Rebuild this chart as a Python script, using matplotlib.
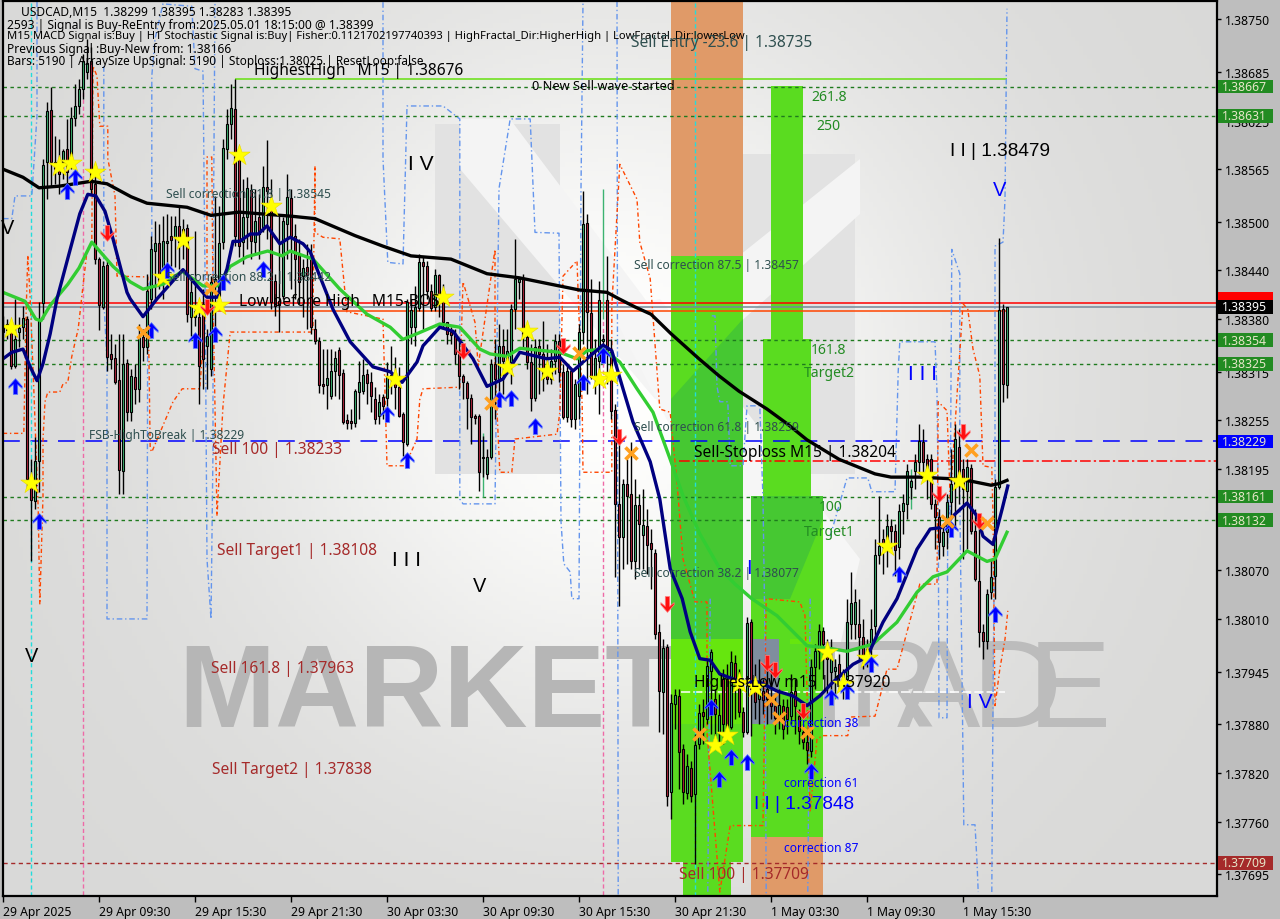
import numpy as np
import matplotlib
matplotlib.use('Agg')
import matplotlib.pyplot as plt
from matplotlib.patches import Rectangle, Polygon
from matplotlib.path import Path
from matplotlib.transforms import blended_transform_factory

plt.rcParams['font.family'] = ['Noto Sans', 'DejaVu Sans']

# prices are stored as points above 1.30000
opens = [8364,8367,8364,8322,8364,8370,8380,8185,8156,8205,
8400,8574,8638,8574,8575,8574,8590,8578,8628,8643,
8664,8685,8698,8547,8454,8395,8447,8337,8332,8305,
8193,8326,8265,8309,8294,8358,8346,8405,8464,8474,
8426,8474,8483,8481,8495,8483,8492,8383,8383,8383,
8399,8347,8318,8423,8408,8475,8590,8621,8639,8581,
8475,8506,8539,8475,8506,8494,8543,8522,8427,8402,
8408,8497,8529,8483,8459,8433,8444,8454,8368,8353,
8300,8299,8285,8316,8342,8313,8255,8254,8252,8290,
8291,8312,8302,8281,8260,8284,8283,8306,8309,8296,
8263,8226,8370,8370,8394,8450,8445,8415,8395,8434,
8411,8376,8364,8362,8337,8310,8301,8283,8260,8260,
8209,8189,8210,8325,8306,8347,8326,8327,8392,8426,
8430,8358,8327,8283,8347,8337,8311,8306,8328,8353,
8315,8259,8316,8257,8285,8364,8499,8388,8309,8328,
8353,8404,8339,8268,8152,8111,8176,8164,8082,8151,
8114,8125,8104,8091,7994,7920,7975,7796,7905,7915,
7850,7795,7826,7794,7856,7895,7887,7946,7911,7870,
7936,7936,7877,7956,7936,7895,7870,8006,7926,7911,
7921,7924,7911,7902,7889,7902,7901,7890,7921,7890,
7870,7858,7847,7951,7970,7995,7975,7945,7946,7954,
7942,7936,8004,8004,8004,7988,7973,7977,8001,8089,
8109,8099,8125,8119,8099,8143,8152,8173,8193,8204,
8228,8207,8207,8152,8136,8100,8117,8154,8177,8222,
8195,8168,8196,8119,8057,7994,7983,8043,8063,8173,
8392,8299]
highs = [8384,8380,8373,8405,8383,8396,8384,8207,8234,8401,
8578,8648,8666,8606,8602,8590,8627,8642,8670,8676,
8707,8726,8716,8571,8457,8452,8452,8362,8349,8362,
8362,8331,8318,8325,8374,8368,8436,8483,8501,8497,
8507,8510,8507,8507,8518,8504,8497,8432,8489,8399,
8417,8368,8433,8532,8520,8602,8639,8670,8676,8590,
8553,8555,8547,8541,8534,8569,8601,8553,8436,8507,
8506,8559,8541,8497,8479,8454,8473,8473,8380,8358,
8343,8343,8343,8341,8346,8318,8263,8269,8294,8328,
8331,8318,8315,8296,8288,8288,8327,8347,8333,8321,
8265,8405,8405,8421,8460,8457,8452,8423,8442,8436,
8423,8376,8370,8368,8355,8312,8304,8288,8263,8263,
8236,8220,8331,8355,8374,8368,8368,8399,8479,8432,
8436,8368,8349,8355,8355,8378,8349,8343,8362,8362,
8325,8325,8318,8306,8374,8538,8510,8430,8355,8427,
8362,8458,8355,8275,8232,8183,8207,8228,8183,8164,
8170,8146,8121,8096,8004,7985,7979,7917,7924,7924,
7856,7843,7835,7868,7905,7911,7961,7973,7924,7917,
7948,7954,7970,7965,7948,7901,8012,8010,7954,7960,
7936,7954,7948,7917,7924,7911,7911,7942,7936,7899,
7880,7868,7961,7979,8004,8000,7985,7985,7961,7967,
7948,8035,8068,8047,8035,8010,7985,8022,8109,8162,
8121,8139,8133,8127,8152,8164,8201,8183,8213,8251,
8244,8213,8213,8158,8146,8127,8164,8220,8251,8244,
8207,8207,8201,8146,8133,8004,8047,8084,8183,8480,
8399,8395]
lows = [8353,8355,8318,8320,8346,8355,8170,8081,8146,8167,
8380,8528,8544,8547,8534,8553,8541,8565,8618,8633,
8652,8676,8534,8448,8367,8392,8316,8318,8300,8164,
8164,8254,8254,8275,8278,8328,8337,8392,8405,8417,
8405,8448,8446,8444,8442,8454,8376,8359,8371,8275,
8294,8294,8310,8355,8392,8466,8578,8602,8470,8457,
8448,8466,8454,8460,8454,8487,8479,8392,8384,8364,
8405,8454,8417,8405,8399,8383,8368,8362,8349,8289,
8287,8269,8281,8285,8281,8251,8244,8244,8247,8257,
8287,8275,8265,8251,8251,8257,8272,8287,8269,8259,
8211,8223,8349,8347,8390,8368,8405,8390,8390,8383,
8368,8349,8349,8325,8294,8281,8244,8226,8251,8168,
8185,8183,8207,8257,8287,8287,8312,8300,8368,8405,
8343,8318,8267,8279,8287,8291,8300,8300,8312,8302,
8257,8253,8247,8244,8257,8349,8287,8306,8287,8263,
8331,8300,8257,8062,8026,8072,8078,8072,8059,8072,
8072,8065,8047,7985,7870,7868,7779,7763,7874,7800,
7782,7788,7784,7708,7850,7856,7880,7868,7856,7856,
7856,7874,7874,7887,7889,7864,7868,7866,7887,7880,
7893,7880,7887,7868,7874,7862,7868,7880,7868,7856,
7850,7831,7840,7924,7948,7936,7917,7921,7917,7924,
7911,7924,7985,7985,7961,7948,7951,7961,7985,8078,
8065,8074,8096,8063,8084,8115,8133,8158,8170,8189,
8183,8158,8146,8096,8084,8088,8096,8133,8121,8152,
8084,8096,8115,8057,7975,7961,7973,8035,8035,8170,
8278,8283]
closes = [8371,8374,8322,8355,8369,8381,8183,8157,8205,8380,
8570,8637,8574,8565,8559,8587,8562,8628,8643,8664,
8698,8696,8541,8454,8397,8446,8333,8331,8302,8194,
8325,8265,8310,8294,8358,8346,8415,8466,8474,8427,
8476,8476,8478,8495,8475,8491,8386,8413,8390,8322,
8331,8359,8426,8430,8474,8591,8621,8640,8483,8470,
8506,8542,8476,8501,8485,8543,8538,8401,8396,8397,
8501,8531,8483,8454,8426,8443,8434,8370,8353,8299,
8297,8307,8316,8332,8311,8253,8252,8252,8291,8302,
8311,8301,8285,8257,8278,8273,8309,8311,8296,8260,
8228,8401,8391,8395,8450,8445,8415,8394,8434,8411,
8376,8362,8360,8337,8310,8302,8283,8259,8258,8191,
8210,8210,8325,8306,8347,8328,8341,8392,8430,8430,
8358,8327,8283,8345,8337,8307,8306,8328,8353,8315,
8259,8316,8257,8300,8364,8497,8389,8309,8332,8404,
8355,8339,8267,8152,8111,8176,8162,8082,8151,8127,
8126,8101,8096,7991,7921,7974,7792,7906,7916,7846,
7796,7829,7792,7854,7894,7890,7952,7969,7893,7891,
7880,7877,7957,7933,7895,7870,8005,7924,7907,7924,
7910,7911,7902,7888,7904,7874,7887,7920,7903,7872,
7858,7848,7951,7970,7995,7979,7961,7961,7951,7940,
7936,8006,8030,8031,7988,7964,7963,7998,8089,8100,
8099,8125,8119,8095,8143,8153,8193,8180,8204,8230,
8204,8189,8152,8136,8105,8117,8154,8177,8232,8183,
8170,8197,8119,8059,7994,7983,8041,8062,8173,8391,
8300,8395]

black_i = [0,5,9,14,22,26,32,36,46,52,59,72,78,88,95,102,112,121,129,138,144,151,154,158,162,167,174,179,184,191,196,201,209,218,222,229,237,242,247,249,251]
black_p = [8565,8555,8542,8544,8550,8547,8531,8523,8518,8508,8512,8507,8504,8483,8470,8458,8454,8436,8431,8422,8416,8413,8405,8395,8386,8362,8331,8310,8291,8269,8251,8231,8207,8189,8185,8185,8183,8180,8175,8177,8181]

navy_i = [0,2.2,5,6.8,8.5,10,11.8,13.5,16.8,19.2,21.2,23.2,25.5,27.5,31,31.8,35,38.5,45,48.5,51,53.5,56,57.5,59.2,61.8,63.8,66,69.2,71.8,75,76.8,79.2,82.5,86.8,92.5,96.8,99.8,103.5,105,109.2,112.5,117.5,121,125,129.2,136,139.2,142.5,145,150,152.2,155,157.5,161.8,164.2,166.8,169.8,171.8,174.2,176.8,179.2,184.2,189.2,193.5,197.5,201,204.2,207.5,212.5,216,220,223.5,228.5,231.8,235,237.5,241,243.5,245,247.5,249.8,251.2]
navy_p = [8331,8339,8343,8321,8304,8325,8362,8405,8466,8510,8534,8532,8513,8479,8413,8405,8383,8405,8441,8421,8407,8407,8442,8476,8476,8485,8485,8495,8473,8481,8473,8463,8433,8392,8352,8321,8315,8302,8327,8347,8370,8365,8331,8297,8306,8339,8331,8333,8316,8327,8348,8341,8294,8253,8204,8158,8072,8035,7994,7961,7959,7942,7933,7932,7921,7915,7903,7915,7932,7954,7963,8006,8035,8096,8121,8123,8137,8153,8137,8112,8102,8146,8174]

green_i = [0,5.5,8.2,9.5,11.8,16.2,19,22.2,27.5,31.8,35,40,44.8,50,53.5,56.8,61,66.2,69.8,71.8,77.5,84.2,91,96.8,100,103.5,109.2,114.2,119.2,121.8,126,129.2,139.2,143.5,146,150,154.2,158.5,162.5,166.8,170,174.2,179.2,183,187.2,193.5,201,207.5,211,217.5,223.5,228.5,232.5,236,241,246,248,251]
green_p = [8413,8402,8380,8378,8397,8423,8443,8475,8445,8426,8417,8423,8439,8421,8421,8445,8457,8464,8458,8464,8454,8417,8386,8370,8355,8362,8374,8370,8343,8337,8334,8344,8339,8331,8341,8343,8327,8294,8265,8207,8162,8115,8072,8053,8035,8014,7977,7973,7970,7979,8006,8043,8062,8068,8094,8081,8084,8117]

orange_i = [0,5.2,5.8,6.2,6.8,7.8,8.8,9.2,10,10,10.5,11.2,14.2,15,16.2,17.2,18.8,20,21,22.2,22.5,23.5,24.2,26.2,26.2,28,28.5,36.2,36.8,37.2,42.5,44.8,49.2,51,51,52.2,52.5,53.5,55,56.8,77.5,77.5,78,78,80,84.2,85.5,86,95,96,100.5,103.5,104.2,105,114.2,115,118,118.8,123,123,124.2,127.2,128,138.5,139.2,140,143.5,144.8,145,152.2,152.2,154.2,158.5,159.2,161.8,164.2,166.8,168.5,170,173,176,176,179.2,181.8,190,190.8,199.2,200.5,201.8,203.5,205,211.2,211.8,218,221,223.5,226,229.2,233.5,233.8,236,236.8,240,241.2,242.5,244.2,245,247.2,247.5,248,249.2,250.5,251.2]
orange_p = [8239,8239,8392,8459,8405,8281,8146,8028,8162,8232,8278,8290,8290,8300,8302,8334,8368,8421,8464,8475,8692,8680,8618,8618,8578,8532,8433,8432,8220,8216,8278,8294,8294,8417,8580,8580,8405,8137,8273,8364,8364,8392,8569,8487,8481,8479,8413,8389,8380,8199,8199,8232,8281,8294,8296,8426,8376,8322,8466,8322,8191,8191,8232,8238,8265,8433,8452,8273,8191,8191,8396,8571,8528,8475,8430,8269,8265,8179,8084,8031,8031,7870,7673,7755,7755,8035,8031,8014,7772,7862,7866,7866,7889,7890,7948,7948,7994,8053,8053,8278,8267,8158,8399,8392,8343,8310,8199,8197,8137,7903,7948,7985,8020]

blue_i = [0,2.2,3,7.2,8.5,8.5,np.nan,25.2,25.2,26,26,36,36.2,37.2,37.2,38,40,47.2,48,50,50.5,51,52,52.5,52.5,53,np.nan,
          95,95,96.2,100,101,110,114.2,114.2,115,123,124,126.8,131.8,133,139,139.5,140.2,141.8,142.2,144,144.5,145,np.nan,
          153.5,153.8,np.nan,177.2,178,178.5,179.2,181.2,181.8,185,186,189.2,190,190.5,190.8,np.nan,176.8,176.2,np.nan,201.8,201.2,np.nan,
          206.8,211,216.2,217.2,223,223.8,224.2,233,233.5,233.8,234,236,236.2,236.8,237.2,239.2,239.2,240,240.2,243,243.5,243.8,np.nan,
          247.2,247.5,248,248,250,250.5,251]
blue_p = [8504,8504,8532,8532,8631,8772,np.nan,8692,8405,8327,8010,8010,8417,8433,8680,8726,8769,8766,8689,8686,8436,8084,8010,8220,8417,8772,np.nan,
          8771,8578,8450,8448,8643,8643,8627,8158,8152,8152,8541,8627,8627,8487,8486,8130,8078,8068,8035,8035,8541,8772,np.nan,
          8772,7669,np.nan,8384,8384,8297,8278,8278,8199,8199,8273,8273,8158,7985,7669,np.nan,8035,7673,np.nan,8035,7673,np.nan,
          8112,8184,8184,8167,8167,8315,8352,8352,8290,8158,7888,7888,8158,8137,8466,8436,8158,7840,7756,7756,7710,7673,np.nan,
          7673,7911,8170,8470,8475,8528,8763]

star_i = [2,7,14,17,23,40,45,49,54,59,67,98,110,126,131,136,149,152,178,181,184,188,206,210,216,221,231,239]
star_p = [8369,8178,8569,8573,8561,8432,8478,8394,8397,8582,8520,8306,8407,8321,8365,8316,8306,8311,7854,7867,7931,7926,7969,7930,7962,8100,8188,8180]
up_i = [3,9,16,18,37,41,48,53,55,65,96,101,124,127,133,145,150,177,182,186,179,202,207,211,217,224,237,248]
up_p = [8297,8131,8538,8555,8367,8441,8354,8362,8426,8442,8263,8206,8281,8283,8248,8302,8336,7901,7840,7833,7812,7822,7914,7921,7954,8065,8121,8016]
down_i = [26,51,115,140,154,166,191,193,200,234,240,244]
down_p = [8486,8395,8341,8347,8234,8028,7956,7947,7896,8164,8241,8131]
cross_i = [35,52,122,144,157,174,192,194,201,236,242,246]
cross_p = [8364,8418,8276,8338,8215,7868,7911,7888,7870,8131,8218,8128]

green_levels = [8667, 8631, 8354, 8325, 8161, 8132]
tick_prices = [8750,8685,8625,8565,8500,8440,8380,8315,8255,8195,8135,8070,8010,7945,7880,7820,7760,7695]
time_ticks = [0,24,48,72,96,120,144,168,192,216,240]
time_labels = ['29 Apr 2025','29 Apr 09:30','29 Apr 15:30','29 Apr 21:30','30 Apr 03:30','30 Apr 09:30',
               '30 Apr 15:30','30 Apr 21:30','1 May 03:30','1 May 09:30','1 May 15:30']

# coloured zones: first bar, last bar, top price, bottom price
zone_left  = [167,167,170,192,190,187,187]
zone_right = [185,185,182,200,202,205,205]
zone_top   = [8772,8458,7710,8668,8355,8162,7741]
zone_bot   = [8458,7710,7669,8355,8162,7741,7669]
zone_col   = ['#e09a68','#5adc20','#5adc20','#5adc20','#5adc20','#5adc20','#e09a68']

W, H = 1280, 920
def P(v):
    return 1.3 + np.asarray(v, dtype=float) / 1e5

fig = plt.figure(figsize=(12.8, 9.2), dpi=100, facecolor='#bebebe')
ax = fig.add_axes([2.5/W, 1-896.5/H, 1214/W, 894.5/H])

# soft background gradient
yy, xx = np.mgrid[0:1:200j, 0:1:300j]
g = 0.85 + 0.15*np.exp(-(((xx-0.50)/0.30)**2 + ((yy-0.42)/0.42)**2))
bg = np.dstack([g, g, g*0.995])
ax.imshow(bg, extent=(0,1,0,1), transform=ax.transAxes, aspect='auto', zorder=0)

# pale logo shapes behind the chart
def poly(pts, col, z=0.2, a=1.0):
    fig_pts = [(x/W, 1-y/H) for x, y in pts]
    ax.add_patch(Polygon(fig_pts, closed=True, transform=fig.transFigure, facecolor=col,
                         edgecolor='none', zorder=z, alpha=a))
poly([(435,125),(560,125),(560,475),(435,475)], '#e2e2e2')
poly([(735,155),(855,155),(855,475),(735,475)], '#e2e2e2')
poly([(460,120),(510,120),(660,320),(860,160),(860,215),(655,400),(460,170)], '#f4f4f4', 0.25)
poly([(610,310),(660,300),(860,560),(830,690),(800,680)], '#f6f6f6', 0.25)

# watermark
ax.text(178/W, 1-727/H, 'MARKETZI', fontsize=84, fontweight='bold', color='#b6b6b6',
        family=['Liberation Sans'], va='baseline', ha='left', zorder=0.3, transform=fig.transFigure)
for letter, lx in zip('TRADE', [790, 848, 897, 972, 1028]):
    ax.text(lx/W, 1-727/H, letter, fontsize=90, color='#bcbcbc', family=['Liberation Sans'],
            va='baseline', ha='left', transform=fig.transFigure, zorder=0.3)

# zones
for l, r, t, b, c in zip(zone_left, zone_right, zone_top, zone_bot, zone_col):
    ax.add_patch(Rectangle((l, P(b)), r-l, P(t)-P(b), facecolor=c, edgecolor='none', zorder=1))
poly([(671,400),(743,320),(743,640),(671,640)], '#46c832', 1.1)
poly([(751,497),(823,497),(823,520),(790,600),(751,600)], '#46c832', 1.1)
poly([(671,640),(743,640),(743,725),(671,725)], '#66e60e', 1.1)
poly([(752,640),(779,640),(779,725),(752,725)], '#7f8e9e', 1.1)
poly([(790,640),(812,640),(812,645),(790,645)], '#66e60e', 1.1)

# level lines
for p in green_levels:
    ax.axhline(P(p), color='#1e7a1e', lw=1, ls=(0,(2.5,2.5)), zorder=1.5)
ax.axhline(P(8400), color='#ff0000', lw=1.1, zorder=1.6)
ax.axhline(P(8395), color='#778899', lw=1.1, zorder=1.6)
ax.hlines(P(8390), 53.5, 251, color='#ff4500', lw=1.1, zorder=1.6)
ax.hlines(P(8676), 58, 251, color='#66e010', lw=1.1, zorder=1.6)
ax.axhline(P(8229), color='#0000ff', lw=1.1, ls=(0,(11,7)), zorder=1.6)
ax.axhline(P(7709), color='#a52a2a', lw=1, ls=(0,(3,2.5)), zorder=1.6)
ax.hlines(P(8205), 169, 304, color='#ff0000', lw=1.1, ls=(0,(7,2,1.5,2)), zorder=1.6)
ax.hlines(P(7920), 169.5, 250.5, color='#ffffff', lw=1.1, ls=(0,(6,2)), zorder=1.6)
ax.axvline(7, color='#22dddd', lw=1, ls=(0,(3,2)), zorder=1.7)
ax.axvline(173, color='#22dddd', lw=1, ls=(0,(3,2)), zorder=1.7)
ax.vlines(20, P(7669), P(8672), color='#ee6aa7', lw=1, ls=(0,(3,2)), zorder=1.7)
ax.vlines(150, P(7669), P(8380), color='#ee6aa7', lw=1, ls=(0,(3,2)), zorder=1.7)
ax.vlines(150, P(8380), P(8541), color='#3cb371', lw=1, zorder=1.7)
ax.vlines(120, P(8160), P(8240), color='#3cb371', lw=1, zorder=1.7)
ax.vlines(227, P(8146), P(8195), color='#3cb371', lw=1, zorder=1.7)
ax.vlines(208, P(7911), P(7961), color='#3cb371', lw=1, zorder=1.7)

# stepped dashed envelopes
ax.plot(blue_i, P(blue_p), color='#6495ed', lw=1, ls=(0,(4,2,1,2)), zorder=1.8)
ax.plot(orange_i, P(orange_p), color='#ff4500', lw=1, ls=(0,(3,2,1,2)), zorder=1.8)

# candles
x = np.arange(len(opens))
o, h, l, c = map(np.array, (opens, highs, lows, closes))
ax.vlines(x, P(l), P(h), color='black', lw=1, zorder=3)
up = c >= o
ax.bar(x[up], (P(c)-P(o))[up], bottom=P(o)[up], width=0.62, color='#3cb371', edgecolor='black', lw=0.8, zorder=3.1)
ax.bar(x[~up], (P(o)-P(c))[~up], bottom=P(c)[~up], width=0.62, color='#b2233c', edgecolor='black', lw=0.8, zorder=3.1)

# moving averages
ax.plot(green_i, P(green_p), color='#32cd32', lw=2.4, zorder=4, solid_joinstyle='round')
ax.plot(black_i, P(black_p), color='black', lw=2.4, zorder=4.1, solid_joinstyle='round')
ax.plot(navy_i, P(navy_p), color='#000080', lw=2.4, zorder=4.2, solid_joinstyle='round')

# signal markers
arrow = Path([(0,0.5),(0.42,0.02),(0.42,-0.12),(0.14,0.12),(0.14,-0.5),(-0.14,-0.5),(-0.14,0.12),(-0.42,-0.12),(-0.42,0.02),(0,0.5)], closed=True)
arrow_down = Path(arrow.vertices*np.array([1,-1]), closed=True)
ax.scatter(star_i, P(star_p), marker='*', s=260, color='#ffff00', edgecolor='#e8d800', lw=0.4, zorder=5)
ax.scatter(up_i, P(up_p), marker=arrow, s=130, color='#0000ff', edgecolor='#5c7cff', lw=0.5, zorder=5.1)
ax.scatter(down_i, P(down_p), marker=arrow_down, s=130, color='#ff0f0f', edgecolor='#ff8080', lw=0.5, zorder=5.1)
ax.scatter(cross_i, P(cross_p), marker='x', s=75, color='#ffa020', lw=2.6, zorder=5.1)

# axes
ax.set_xlim((2.5-3)/4, (1216.5-3)/4)
ax.set_ylim(1.3 + (8775-1.234*896.5)/1e5, 1.3 + (8775-1.234*2)/1e5)
ax.yaxis.tick_right()
ax.set_yticks(P(tick_prices))
ax.set_yticklabels([f'{v:.5f}' for v in P(tick_prices)], fontsize=8.8, color='black')
ax.set_xticks(time_ticks)
ax.set_xticklabels(time_labels, fontsize=8.8, ha='left', color='black')
ax.tick_params(axis='y', length=3, width=1, pad=3)
ax.tick_params(axis='x', length=4, width=1, pad=3)
for s in ax.spines.values():
    s.set_linewidth(1.6)
    s.set_color('black')
    s.set_zorder(6)

# price tags
tr = blended_transform_factory(fig.transFigure, ax.transData)
tag_p = [8667,8631,8354,8325,8229,8161,8132,7709]
tag_c = ['#228b22']*4 + ['#0000ff'] + ['#228b22']*2 + ['#a52a2a']
ax.add_patch(Rectangle((1218/W, P(8403)), 55/W, 0.00010, transform=tr, facecolor='#ff0000', clip_on=False, zorder=7))
for p, col in zip(tag_p, tag_c):
    ax.add_patch(Rectangle((1218/W, P(p)-0.000085), 55/W, 0.00017, transform=tr, facecolor=col, clip_on=False, zorder=7))
    ax.text(1222/W, P(p), f'{P(p):.5f}', transform=tr, color='#e6e6c8', fontsize=8.8, va='center', zorder=8, clip_on=False)
ax.add_patch(Rectangle((1218/W, P(8395)-0.000085), 55/W, 0.00017, transform=tr, facecolor='black', clip_on=False, zorder=7.5))
ax.text(1222/W, P(8395), '1.38395', transform=tr, color='white', fontsize=8.8, va='center', zorder=8, clip_on=False)

# annotations
def note(xp, yp, s, px, col='black', **kw):
    fig.text(xp/W, 1-yp/H, s, fontsize=px*0.72, color=col, va='center', ha='left', zorder=9, **kw)

LIB = ['Liberation Sans']
DS = '#2f4f4f'; BR = '#a52a2a'; GR = '#228b22'; BL = '#0000ff'
note(21, 12, 'USDCAD,M15  1.38299 1.38395 1.38283 1.38395', 12)
note(7, 25, '2593 | Signal is Buy-ReEntry from:2025.05.01 18:15:00 @ 1.38399', 12)
note(7, 37, 'M15 MACD Signal is:Buy | H1 Stochastic Signal is:Buy| Fisher:0.1121702197740393 | HighFractal_Dir:HigherHigh | LowFractal_Dir:lowerLow', 11.2)
note(7, 49, 'Previous Signal :Buy-New from: 1.38166', 12)
note(7, 61, 'Bars: 5190 | ArraySize UpSignal: 5190 | Stoploss:1.38025 | ResetLoop:false', 11.8)
note(254, 71, 'HighestHigh   M15 | 1.38676', 15.5)
note(532, 87, '0 New Sell wave started', 12.8)
note(631, 43, 'Sell Entry -23.6 | 1.38735', 15.5, DS)
note(811, 98, '261.8', 14, GR); note(816, 127, '250', 14, GR)
note(811, 351, '161.8', 14, GR); note(804, 374, 'Target2', 14, GR)
note(819, 508, '100', 14, GR); note(804, 532, 'Target1', 14, GR)
note(950, 151, 'I I | 1.38479', 19, family=LIB)
note(993, 191, 'V', 20, BL, family=LIB)
note(408, 164, 'I V', 21, family=LIB)
note(166, 195, 'Sell correction 61.8 | 1.38545', 12, DS)
note(166, 278, 'Sell correction 88.2 | 1.38442', 12, DS)
note(239, 302, 'Low before High   M15-BOS', 15.5)
note(634, 266, 'Sell correction 87.5 | 1.38457', 12, DS)
note(634, 427, 'Sell correction 61.8 | 1.38259', 12, DS)
note(634, 574, 'Sell correction 38.2 | 1.38077', 12, DS)
note(89, 436, 'FSB-HighToBreak | 1.38229', 12, DS)
note(212, 450, 'Sell 100 | 1.38233', 15.5, BR)
note(694, 453, 'Sell-Stoploss M15 | 1.38204', 15.5)
note(217, 551, 'Sell Target1 | 1.38108', 15.5, BR)
note(392, 561, 'I I I', 21, family=LIB)
note(473, 587, 'V', 20, family=LIB)
note(25, 657, 'V', 20, family=LIB)
note(1, 228, 'V', 20, family=LIB)
note(908, 375, 'I I I', 21, BL, family=LIB)
note(746, 569, 'I', 20, BL, family=LIB)
note(211, 669, 'Sell 161.8 | 1.37963', 15.5, BR)
note(212, 770, 'Sell Target2 | 1.37838', 15.5, BR)
note(679, 875, 'Sell 100 | 1.37709', 15.5, BR)
note(694, 683, 'HighestLow m15 | 1.37920', 15.5)
note(784, 724, 'correction 38', 12, BL)
note(784, 784, 'correction 61', 12, BL)
note(784, 849, 'correction 87', 12, BL)
note(754, 805, 'I I | 1.37848', 19, BL, family=LIB)
note(967, 703, 'I V', 21, BL, family=LIB)

fig.savefig('out.png', dpi=100, facecolor=fig.get_facecolor())
